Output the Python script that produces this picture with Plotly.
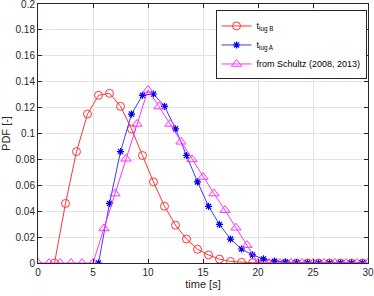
import plotly.graph_objects as go

x_b = [1.5, 2.5, 3.5, 4.5, 5.5, 6.5, 7.5, 8.5, 9.5, 10.5, 11.5, 12.5, 13.5, 14.5,
       15.5, 16.5, 17.5, 18.5, 19.5, 20.5, 21.5, 22.5, 23.5, 24.5, 25.5, 26.5, 27.5, 28.5, 29.5]
y_b = [0.0, 0.046, 0.086, 0.115, 0.1295, 0.131, 0.121, 0.1035, 0.083, 0.0626, 0.0438, 0.0292,
       0.0185, 0.0106, 0.0062, 0.0030, 0.0012, 0.0005, 0.0002, 0.0001, 0.0, 0.0, 0.0, 0.0,
       0.0, 0.0, 0.0, 0.0, 0.0]

x_a = [5.5, 6.5, 7.5, 8.5, 9.5, 10.5, 11.5, 12.5, 13.5, 14.5, 15.5, 16.5, 17.5, 18.5,
       19.5, 20.5, 21.5, 22.5, 23.5, 24.5, 25.5, 26.5, 27.5, 28.5, 29.5]
y_a = [0.0, 0.046, 0.086, 0.115, 0.1295, 0.1305, 0.121, 0.1036, 0.083, 0.0626, 0.0438,
       0.0298, 0.0185, 0.0108, 0.0062, 0.0032, 0.0014, 0.0006, 0.0003, 0.0001, 0.0,
       0.0, 0.0, 0.0, 0.0]

x_s = [0, 1, 2, 3, 4, 5, 6, 7, 8, 9, 10, 11, 12, 13, 14, 15, 16, 17, 18, 19, 20,
       21, 22, 23, 24, 25, 26, 27, 28, 29, 30]
y_s = [0.0, 0.0, 0.0, 0.0, 0.0, 0.0, 0.0267, 0.0536, 0.0805, 0.1074, 0.1336, 0.1208,
       0.1074, 0.0936, 0.080, 0.0664, 0.0536, 0.0408, 0.0272, 0.0138, 0.0, 0.0, 0.0,
       0.0, 0.0, 0.0, 0.0, 0.0, 0.0, 0.0, 0.0]

x_ticks = [0, 5, 10, 15, 20, 25, 30]
y_ticks = [0, 0.02, 0.04, 0.06, 0.08, 0.1, 0.12, 0.14, 0.16, 0.18, 0.2]
y_tick_labels = ["0", "0.02", "0.04", "0.06", "0.08", "0.1", "0.12", "0.14", "0.16", "0.18", "0.2"]

FONT = "Liberation Sans, Arial"

fig = go.Figure()
fig.add_trace(go.Scatter(
    x=x_b, y=y_b, mode="lines+markers", name="t<sub>lug B</sub>",
    line=dict(color="#ff3333", width=1),
    marker=dict(symbol="circle-open", size=8, color="#ff3333", line=dict(width=1))))
fig.add_trace(go.Scatter(
    x=x_a, y=y_a, mode="lines+markers", name="t<sub>lug A</sub>",
    line=dict(color="#3a3aff", width=1),
    marker=dict(symbol="asterisk-open", size=6, color="#0000ee", line=dict(width=1.2, color="#0000ee"))))
fig.add_trace(go.Scatter(
    x=x_s, y=y_s, mode="lines+markers", name="from Schultz (2008, 2013)",
    line=dict(color="#ff33ff", width=1),
    marker=dict(symbol="triangle-up-open", size=9, color="#ff33ff", line=dict(width=1))))

axis_common = dict(
    showline=True, linecolor="#262626", linewidth=1, mirror="ticks",
    ticks="inside", ticklen=4, tickcolor="#262626",
    showgrid=True, gridcolor="#e3e3e3", gridwidth=1, zeroline=False,
    automargin=False, ticklabeloverflow="allow",
    tickfont=dict(family=FONT, size=10, color="#262626"),
)

fig.update_xaxes(range=[-0.0001, 30.0001], tickvals=x_ticks,
                 title=dict(text="time [s]", standoff=3,
                            font=dict(family=FONT, size=11, color="#262626")),
                 **axis_common)
fig.update_yaxes(range=[-0.000001, 0.200001], tickvals=y_ticks, ticktext=y_tick_labels,
                 title=dict(text="PDF [-]", standoff=2,
                            font=dict(family=FONT, size=11, color="#262626")),
                 **axis_common)

fig.update_layout(
    width=374, height=296,
    margin=dict(l=38, r=6, t=4, b=33, autoexpand=False),
    paper_bgcolor="white", plot_bgcolor="white",
    showlegend=True,
    legend=dict(x=0.538, y=0.975, xanchor="left", yanchor="top",
                bgcolor="white", bordercolor="#262626", borderwidth=1,
                font=dict(family=FONT, size=9, color="#000000"),
                tracegroupgap=0, itemwidth=30),
)

fig.write_html("out.html", config={"displayModeBar": False},
               post_script="document.body.style.margin='0';document.body.style.padding='0';document.body.style.overflow='hidden';")
